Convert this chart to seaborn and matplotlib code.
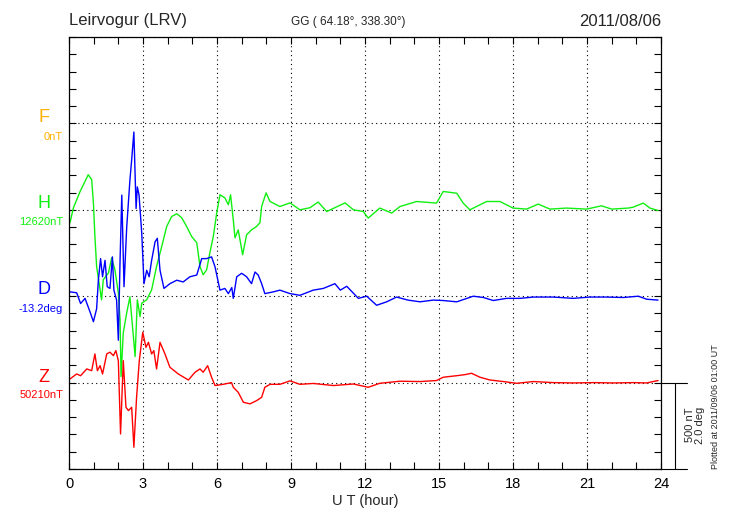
import matplotlib
matplotlib.use('Agg')
import matplotlib.pyplot as plt
from matplotlib.ticker import MultipleLocator
import numpy as np
import pandas as pd
import seaborn as sns

# H component, deviation from 12620 nT
h_hour = [0.04, 0.18, 0.45, 0.78, 0.92, 0.99, 1.05, 1.12, 1.32, 1.39, 1.6, 1.73, 1.86, 2.0, 2.07, 2.11,
          2.2, 2.34, 2.47, 2.68, 2.77, 2.88, 2.95, 3.15, 3.35, 3.55, 3.76, 3.96, 4.16, 4.37, 4.57, 4.77,
          4.97, 5.18, 5.31, 5.44, 5.58, 5.71, 5.85, 5.99, 6.12, 6.32, 6.46, 6.55, 6.66, 6.73, 6.86, 7.04,
          7.2, 7.4, 7.6, 7.74, 7.81, 7.99, 8.15, 8.55, 8.96, 9.36, 9.77, 10.1, 10.45, 11.19, 11.53, 11.93,
          12.13, 12.6, 13.08, 13.42, 14.09, 14.9, 15.17, 15.72, 15.98, 16.25, 16.93, 17.47, 18.0, 18.55,
          19.02, 19.5, 20.17, 20.98, 21.59, 22.0, 22.67, 22.87, 23.28, 23.55, 23.88]
h_nt = [-75, 12, 106, 203, 174, 40, -154, -328, -521, -405, -365, -278, -347, -480, -637, -965,
        -712, -596, -504, -849, -521, -618, -540, -521, -463, -328, -212, -97, -39, -23, -46, -97,
        -154, -191, -328, -376, -347, -249, -154, -17, 87, 69, 29, 87, -58, -162, -116, -260,
        -145, -116, -97, -75, 19, 98, 48, 19, 40, 0, 12, 45, -10, 40, 0, -10,
        -48, 10, -19, 19, 48, 39, 106, 96, 39, 0, 48, 48, 10, 4,
        33, 4, 10, 4, 23, 4, 10, 15, 39, 10, -4]

# D component, deviation from -13.2 deg
d_hour = [0.04, 0.31, 0.47, 0.65, 0.85, 0.99, 1.12, 1.19, 1.28, 1.36, 1.46, 1.55, 1.66, 1.76, 1.82, 1.93,
          2.0, 2.07, 2.14, 2.23, 2.34, 2.47, 2.54, 2.63, 2.72, 2.77, 2.84, 2.95, 3.04, 3.15, 3.25, 3.35,
          3.49, 3.58, 3.69, 3.85, 4.09, 4.37, 4.63, 4.9, 5.18, 5.38, 5.58, 5.78, 5.92, 6.12, 6.32, 6.46,
          6.6, 6.66, 6.8, 7.0, 7.2, 7.4, 7.54, 7.67, 7.81, 7.94, 8.28, 8.55, 8.96, 9.36, 9.9, 10.31,
          10.78, 11.0, 11.26, 11.73, 12.07, 12.47, 12.88, 13.28, 13.74, 14.23, 14.77, 15.17, 15.72, 16.39,
          16.8, 17.2, 17.74, 18.28, 18.82, 19.63, 20.44, 21.12, 21.8, 22.47, 23.08, 23.42, 23.88]
d_deg = [0.10, 0.08, -0.17, -0.05, -0.36, -0.59, -0.29, 0.37, 0.87, 0.45, 0.83, 0.22, 0.18, 0.91, 0.14, -0.09,
         -1.02, 0.83, 2.34, 0.22, 1.60, 2.69, 3.15, 3.80, 2.03, 2.53, 2.34, 1.45, 0.29, 0.60, 0.45, 0.83,
         1.26, 1.34, 0.60, 0.18, 0.29, 0.37, 0.33, 0.45, 0.49, 0.87, 0.87, 0.91, 0.68, 0.14, 0.18, 0.06,
         0.20, -0.05, 0.45, 0.53, 0.45, 0.29, 0.56, 0.49, 0.29, 0.06, 0.10, 0.14, 0.06, 0.02, 0.14, 0.18,
         0.29, 0.14, 0.23, -0.05, 0.0, -0.21, -0.13, -0.02, -0.09, -0.13, -0.09, -0.10, -0.13, 0.0,
         -0.03, -0.10, -0.05, -0.05, -0.02, -0.02, -0.05, -0.02, -0.02, -0.03, 0.0, -0.07, -0.09]

# Z component, deviation from 50210 nT
z_hour = [0.04, 0.31, 0.47, 0.72, 0.92, 1.05, 1.15, 1.26, 1.36, 1.53, 1.66, 1.8, 1.9, 2.0, 2.09, 2.2,
          2.31, 2.41, 2.54, 2.63, 2.74, 2.85, 2.99, 3.12, 3.22, 3.35, 3.44, 3.55, 3.69, 3.89, 4.09, 4.43,
          4.84, 5.11, 5.31, 5.44, 5.62, 5.78, 5.92, 6.25, 6.59, 6.66, 6.86, 7.07, 7.34, 7.61, 7.81, 7.94,
          8.15, 8.55, 8.96, 9.36, 9.9, 10.72, 11.53, 12.13, 12.6, 13.42, 14.23, 14.9, 15.17, 15.72, 16.05,
          16.32, 16.66, 17.07, 17.61, 18.15, 18.82, 19.63, 20.44, 21.26, 22.07, 22.87, 23.42, 23.88]
z_nt = [21, 50, 40, 79, 69, 166, 69, 98, 50, 166, 176, 156, 185, 127, -297, 127,
        -143, -162, -143, -374, -85, 127, 291, 204, 233, 166, 185, 79, 233, 166, 89, 50,
        15, 60, 79, 60, 98, 31, -17, -10, 0, -27, -56, -114, -123, -104, -85, -27,
        -10, -10, 10, -10, -5, -17, -8, -27, -4, 8, 6, 12, 31, 40, 46,
        54, 31, 15, 6, -4, 6, 0, -2, 0, -2, 0, -2, 12]

labels = ['F', 'H', 'D', 'Z']
base_labels = ['0nT', '12620nT', '-13.2deg', '50210nT']
colors = ['#ffb000', '#10f010', '#0000ff', '#ff0000']
baselines = [20, 15, 10, 5]  # 1 unit = 100 nT = 0.4 deg

df = pd.concat([
    pd.DataFrame({'hour': h_hour, 'y': 15 + np.array(h_nt) / 100.0, 'comp': 'H'}),
    pd.DataFrame({'hour': d_hour, 'y': 10 + np.array(d_deg) / 0.4, 'comp': 'D'}),
    pd.DataFrame({'hour': z_hour, 'y': 5 + np.array(z_nt) / 100.0, 'comp': 'Z'}),
])

sns.set_style('ticks')
plt.rcParams['font.family'] = ['Liberation Sans', 'DejaVu Sans']

fig = plt.figure(figsize=(7.3, 5.2), dpi=100)
W, H = 730.0, 520.0
ax = fig.add_axes([69 / W, 1 - 469 / H, 592 / W, 432 / H])

sns.lineplot(ax=ax, data=df, x='hour', y='y', hue='comp', palette={'H': colors[1], 'D': colors[2], 'Z': colors[3]},
             linewidth=1.0, legend=False, sort=False, estimator=None)

ax.set_xlim(0, 24)
ax.set_ylim(0, 25)
ax.xaxis.set_major_locator(MultipleLocator(3))
ax.xaxis.set_minor_locator(MultipleLocator(1))
ax.yaxis.set_major_locator(MultipleLocator(5))
ax.yaxis.set_minor_locator(MultipleLocator(1))
ax.tick_params(which='both', direction='in', top=True, right=True, length=5, width=0.8, colors='black')
ax.tick_params(axis='y', which='both', labelleft=False)
ax.tick_params(axis='x', labelsize=10.5, pad=6)
ax.set_xticks([3, 6, 9, 12, 15, 18, 21], minor=False)
ax.set_xticks([0, 3, 6, 9, 12, 15, 18, 21, 24])
ax.grid(True, which='major', color='black', linestyle=(0, (1, 3)), linewidth=0.8)
for s in ax.spines.values():
    s.set_linewidth(0.9)
    s.set_color('black')
ax.set_xlabel('U T (hour)', fontsize=10.5, labelpad=2)
ax.set_ylabel('')

# component labels
label_y = [117, 204, 290, 377]
base_y = [137, 222, 309, 395]
for lab, bl, c, ly, by in zip(labels, base_labels, colors, label_y, base_y):
    fig.text(44 / W, 1 - ly / H, lab, color=c, fontsize=13, ha='center', va='center')
    fig.text(63 / W, 1 - by / H, bl, color=c, fontsize=8, ha='right', va='center')

# header
fig.text(69 / W, 1 - 21 / H, 'Leirvogur (LRV)', fontsize=12, ha='left', va='center')
fig.text(348 / W, 1 - 22 / H, 'GG ( 64.18°, 338.30°)', fontsize=8.5, ha='center', va='center')
fig.text(661 / W, 1 - 21 / H, '2011/08/06', fontsize=12, ha='right', va='center')

# scale bar: 500 nT / 2.0 deg
ax.plot([24, 25.05], [5, 5], color='black', linewidth=0.8, clip_on=False)
ax.plot([24, 25.05], [0, 0], color='black', linewidth=0.8, clip_on=False)
ax.plot([24.58, 24.58], [0, 5], color='black', linewidth=0.8, clip_on=False)
fig.text(695 / W, 1 - 425 / H, '500 nT\n2.0 deg', fontsize=8, rotation=90, ha='center', va='center',
         linespacing=0.95)
fig.text(716 / W, 1 - 469 / H, 'Plotted at 2011/09/06 01:00 UT', fontsize=6.5, rotation=90,
         ha='center', va='bottom')

plt.savefig('out.png', dpi=100)
